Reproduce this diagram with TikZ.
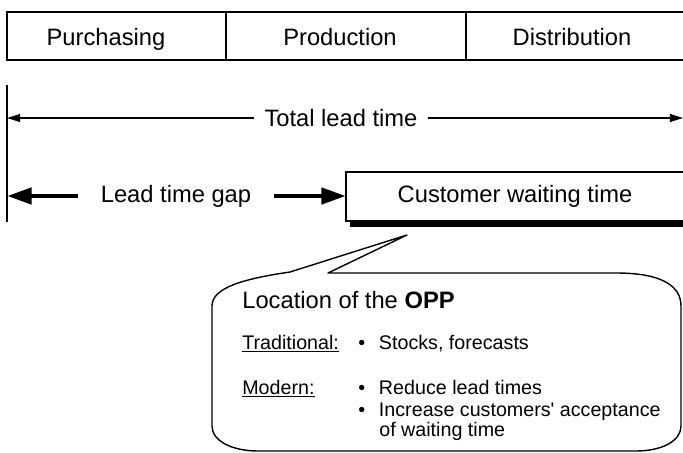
\documentclass[tikz,border=0pt]{standalone}
\usepackage{fontspec}
\setmainfont{Liberation Sans}
\usepackage{tikz}
\usetikzlibrary{arrows.meta,positioning,calc}

\begin{document}
\begin{tikzpicture}[x=0.02cm, y=-0.02cm,
        % Styles for the strip, the time spans and the balloon
        frame/.style={line width=0.85pt},
        phase/.style={anchor=base, font=\fontsize{13.5}{16}\selectfont},
        timetext/.style={font=\fontsize{13.5}{16}\selectfont},
        spanarrow/.style={-{Triangle[length=7.5pt, width=4.5pt]}, line width=0.75pt},
        gaparrow/.style={-{Triangle[length=14pt, width=9pt]}, line width=2.8pt},
        balloon/.style={line width=0.8pt, line join=round},
        itemtext/.style={anchor=base west, inner sep=0pt, font=\fontsize{11.2}{13}\selectfont}
      ]

      \useasboundingbox (0,0) rectangle (683,453);

      % Phase strip, open on the right
      \draw[frame] (683,12) -- (7,12) -- (7,60) -- (683,60);
      \draw[frame] (226,12) -- (226,60);
      \draw[frame] (466,12) -- (466,60);
      \foreach \name/\x/\txt in {purch/106/Purchasing, prod/340/Production, distr/572/Distribution} {
        \node[phase] (\name) at (\x,45) {\txt};
      }

      % Start line of the lead times
      \coordinate (starttop) at (7,85);
      \coordinate (startbot) at (7,222);
      \draw[frame] (starttop) -- (startbot);

      % Total lead time
      \node[timetext, inner xsep=0.2cm] (total) at (341,118) {Total lead time};
      \coordinate (totalR) at (683,118);
      \draw[spanarrow] (total.west) -- (total.west -| starttop);
      \draw[spanarrow] (total.east) -- (totalR);

      % Customer waiting time box with its shadow
      \coordinate (waitNW) at (346,172);
      \coordinate (waitSW) at (346,221);
      \draw[frame] (683,172) -- (waitNW) -- (waitSW) -- (683,221);
      \fill (350,221) rectangle (683,227);
      \node[timetext] (wait) at (515,196) {Customer waiting time};

      % Lead time gap
      \node[timetext, inner xsep=0.44cm] (gap) at (176,196) {Lead time gap};
      \draw[gaparrow] (gap.west) -- (gap.west -| starttop);
      \draw[gaparrow] (gap.east) -- (gap.east -| waitNW);

      % Balloon pointing at the box
      \coordinate (tip) at (407,235);
      \draw[balloon] (tip) -- (290,272) .. controls (242,279) and (212,288) .. (212,306)
        -- (212,426) .. controls (212,441) and (232,451) .. (258,451)
        -- (636,451) .. controls (662,451) and (681,441) .. (681,426)
        -- (681,306) .. controls (681,286) and (662,273) .. (616,273)
        -- (328,273) -- cycle;

      % Balloon text
      \node[itemtext, font=\fontsize{13.5}{16}\selectfont] (opp) at (242,308) {Location of the \textbf{OPP}};
      \node[itemtext] (trad) at (242,349) {\underline{Traditional:}};
      \node[itemtext] (modern) at (242,394) {\underline{Modern:}};
      \node[itemtext] (stocks) at (358,349) {\textbullet\hspace{0.7em}Stocks, forecasts};
      \node[itemtext] (reduce) at (358,394) {\textbullet\hspace{0.7em}Reduce lead times};
      \node[itemtext] (increase) at (358,416) {\textbullet\hspace{0.7em}Increase customers\textquotesingle{} acceptance};
      \node[itemtext] (waiting) at (379,436) {of waiting time};

    \end{tikzpicture}
\end{document}
